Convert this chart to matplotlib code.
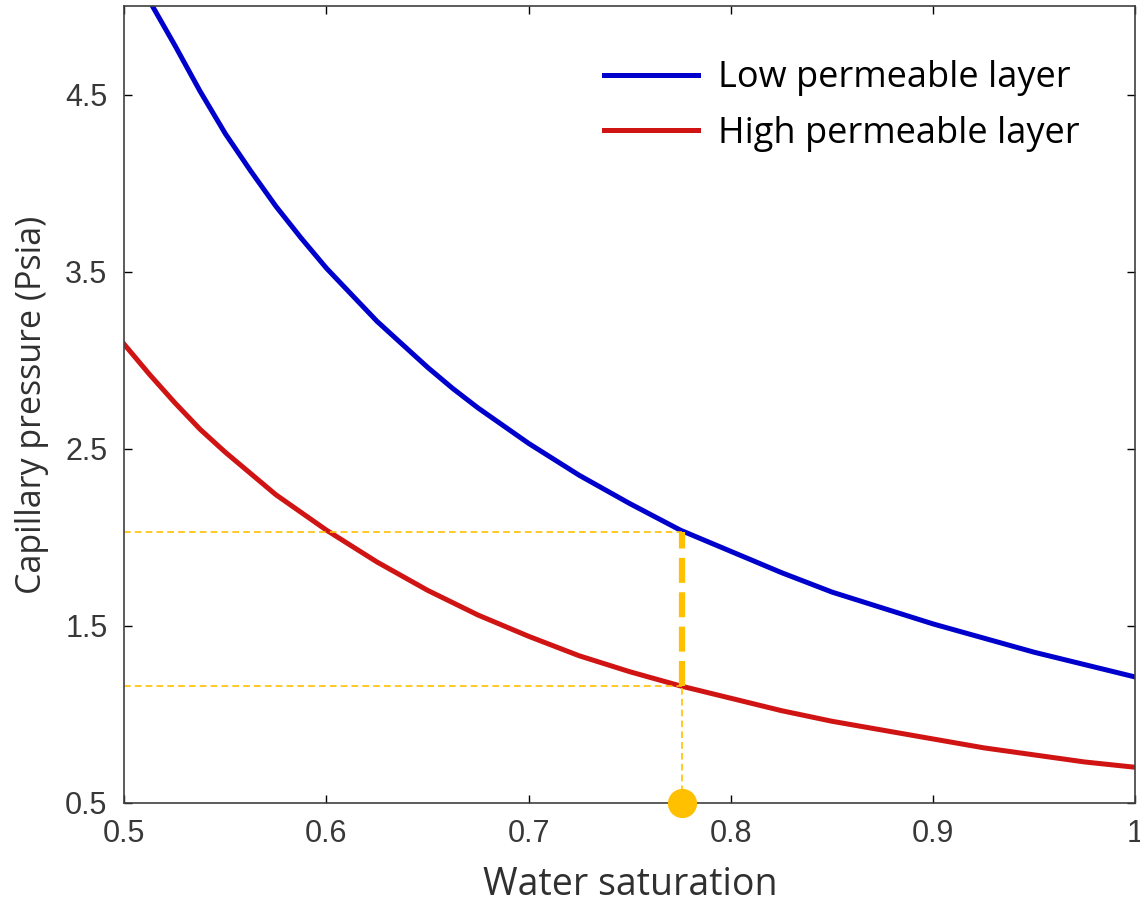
import numpy as np
import matplotlib.pyplot as plt

# Water saturation (x) and capillary pressure (Psia)
sw_low = [0.514, 0.525, 0.5375, 0.55, 0.5625, 0.575, 0.5875, 0.6, 0.6125, 0.625,
          0.6375, 0.65, 0.6625, 0.675, 0.6875, 0.7, 0.725, 0.75, 0.775, 0.8,
          0.825, 0.85, 0.875, 0.9, 0.925, 0.95, 0.975, 1.0]
pc_low = [5.0, 4.78, 4.52, 4.28, 4.07, 3.87, 3.69, 3.52, 3.37, 3.22,
          3.09, 2.96, 2.84, 2.73, 2.63, 2.53, 2.35, 2.19, 2.04, 1.92,
          1.80, 1.69, 1.60, 1.51, 1.43, 1.35, 1.28, 1.21]

sw_high = [0.5, 0.5125, 0.525, 0.5375, 0.55, 0.5625, 0.575, 0.5875, 0.6, 0.6125,
           0.625, 0.6375, 0.65, 0.6625, 0.675, 0.6875, 0.7, 0.725, 0.75, 0.775,
           0.8, 0.825, 0.85, 0.875, 0.9, 0.925, 0.95, 0.975, 1.0]
pc_high = [3.09, 2.92, 2.76, 2.61, 2.48, 2.36, 2.24, 2.14, 2.04, 1.95,
           1.86, 1.78, 1.70, 1.63, 1.56, 1.50, 1.44, 1.33, 1.24, 1.16,
           1.09, 1.02, 0.96, 0.91, 0.86, 0.81, 0.77, 0.73, 0.70]

# marked saturation and the two pressures there
sw_mark = 0.776
pc_mark_low = 2.03
pc_mark_high = 1.16

xticks = [0.5, 0.6, 0.7, 0.8, 0.9, 1.0]
xticklabels = ['0.5', '0.6', '0.7', '0.8', '0.9', '1']
yticks = [0.5, 1.5, 2.5, 3.5, 4.5]

orange = '#FFC000'

fig = plt.figure(figsize=(11.4, 9.07), dpi=100)
ax = fig.add_axes([0.109, 0.115, 0.887, 0.878])

ax.plot(sw_low, pc_low, color='#0000CC', lw=3.6, label='Low permeable layer')
ax.plot(sw_high, pc_high, color='#D01414', lw=3.6, label='High permeable layer')

# guide lines
ax.plot([0.5, sw_mark], [pc_mark_low, pc_mark_low], color=orange, lw=1.2, ls=(0, (4, 2.5)))
ax.plot([0.5, sw_mark], [pc_mark_high, pc_mark_high], color=orange, lw=1.2, ls=(0, (4, 2.5)))
ax.plot([sw_mark, sw_mark], [0.5, pc_mark_high], color=orange, lw=1.2, ls=(0, (4, 2.5)))
ax.plot([sw_mark, sw_mark], [pc_mark_high, pc_mark_low], color=orange, lw=4.5, ls=(0, (4, 1.5)))
ax.plot([sw_mark], [0.5], 'o', color=orange, ms=20, clip_on=False, zorder=5)

ax.set_xlim(0.5, 1.0)
ax.set_ylim(0.5, 5.0)
ax.set_xticks(xticks)
ax.set_xticklabels(xticklabels)
ax.set_yticks(yticks)
ax.tick_params(direction='in', length=6, width=1, top=True, right=True,
               labelsize=22, labelcolor='#383838', pad=12)
for lab in ax.get_xticklabels() + ax.get_yticklabels():
    lab.set_family('Liberation Sans')
for s in ax.spines.values():
    s.set_color('#404040')
    s.set_linewidth(1.2)

ax.set_xlabel('Water saturation', fontsize=27, family='Open Sans', color='#303030', labelpad=12)
ax.set_ylabel('Capillary pressure (Psia)', fontsize=24.5, family='Open Sans', color='#303030', labelpad=12)

leg = ax.legend(loc='upper left', bbox_to_anchor=(0.457, 0.955), frameon=False,
                borderpad=0, prop={'family': 'Open Sans', 'size': 26}, handlelength=2.6,
                handletextpad=0.55, labelspacing=0.55)

fig.savefig('out.png', dpi=100)
